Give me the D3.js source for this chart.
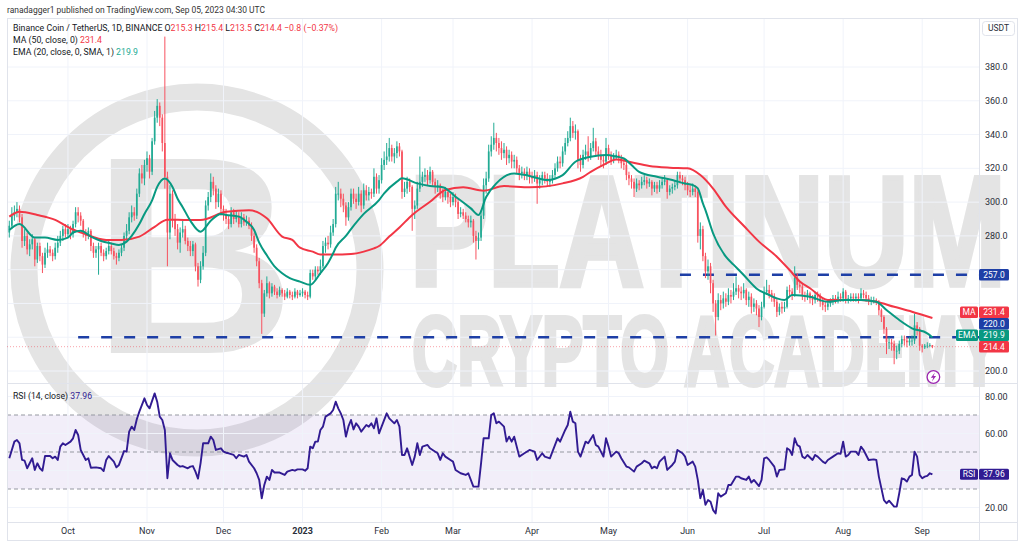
<!DOCTYPE html>
<html>
<head>
<meta charset="utf-8">
<script src="https://cdn.jsdelivr.net/npm/d3@7"></script>
<style>
  body { margin: 0; background: #fff; }
  svg text { font-family: Roboto, "Liberation Sans", "DejaVu Sans", sans-serif; }
</style>
</head>
<body>
<svg id="chart" width="1024" height="547"></svg>
<script>
// BNB / USDT daily candles, 8 Sep 2022 .. 5 Sep 2023 (open = previous close)
var firstDay = new Date(Date.UTC(2022, 8, 8));
var firstOpen = 282;

var closes = [
  // Sep 2022
  286,292,294,296,291,277,280,272,275,278,266,274,268,263,270,272,270,268,273,276,280,284,281,
  // Oct
  284,281,287,294,292,289,282,280,283,274,270,272,274,270,268,271,274,271,268,267,270,273,280,283,291,294,292,305,317,314,322,
  // Nov
  326,318,336,350,357,350,335,315,282,305,290,284,276,282,284,277,274,271,275,262,254,262,270,298,303,312,308,300,305,296,
  // Dec
  293,290,287,294,290,292,287,291,288,289,286,280,273,265,252,234,246,252,246,250,247,245,248,246,244,247,245,244,247,245,246,
  // Jan 2023
  247,245,244,258,256,260,259,262,274,276,275,282,287,305,305,302,298,291,297,305,302,300,305,298,307,304,306,305,315,308,313,
  // Feb
  322,325,327,332,327,329,333,330,306,308,312,309,296,298,308,312,315,316,313,318,312,309,310,306,303,306,303,300,
  // Mar
  303,300,293,294,292,290,288,289,280,277,279,292,310,314,330,334,338,335,332,329,331,326,328,324,325,320,317,318,316,318,315,
  // Apr
  314,316,311,313,316,314,312,313,316,320,324,323,330,335,338,345,341,342,325,322,328,330,327,332,336,330,328,325,324,332,
  // May
  328,325,327,328,326,323,322,316,314,312,308,311,310,312,313,311,312,308,310,308,310,312,313,306,308,309,310,316,314,313,310,
  // Jun
  307,306,308,306,280,284,268,259,262,252,240,232,242,240,243,241,245,244,247,249,247,246,248,242,244,238,240,237,232,238,
  // Jul
  247,248,246,244,241,235,238,237,238,248,247,245,255,251,250,245,244,246,243,242,245,244,241,239,238,240,241,243,242,244,243,
  // Aug
  247,242,243,244,243,244,243,246,245,243,241,242,242,241,236,232,225,217,217,216,212,212,216,219,218,217,218,218,227,225,215,
  // Sep
  214,215,215,215.3,214.4
];

var highs = [
  289,297,298,300,298,293,284,282,278,281,279,276,276,270,273,276,274,272,276,280,283,286,287,
  287,286,289,297,297,294,290,284,285,284,276,274,276,276,272,273,277,276,273,270,272,275,282,287,294,298,297,308,320,322,325,
  330,328,338,354,361,359,352,398,318,310,307,293,287,285,289,286,279,277,277,276,264,265,274,301,306,317,315,310,308,307,
  298,296,292,297,296,295,294,294,293,292,291,288,282,275,267,254,248,256,253,252,251,249,250,249,248,249,248,247,249,248,248,
  249,248,247,260,260,262,262,266,277,279,280,286,290,309,312,308,305,300,300,308,308,305,309,307,311,310,309,308,320,317,316,
  326,330,335,338,334,332,336,335,331,312,315,314,310,301,312,327,318,320,319,321,319,314,313,311,308,309,308,305,
  306,305,302,297,296,294,292,292,290,283,282,295,314,318,334,339,347,341,338,336,335,333,331,330,328,327,322,321,320,321,320,
  318,319,318,316,318,318,317,316,319,323,327,327,333,338,342,350,348,346,343,328,331,334,339,335,344,338,333,331,328,338,
  334,330,329,331,330,328,326,324,318,316,314,314,313,315,316,315,314,313,312,312,313,314,316,314,310,311,313,318,318,316,315,
  312,310,311,310,307,288,286,270,266,264,254,242,246,245,247,246,249,248,252,256,251,250,252,249,247,246,243,242,239,241,
  250,254,251,248,246,243,240,241,241,250,251,249,262,258,253,252,247,248,247,245,247,247,246,243,241,242,243,245,245,247,246,
  249,248,245,246,246,246,246,249,248,247,245,244,244,243,242,237,233,226,220,219,218,215,218,221,221,220,220,221,234,229,226,
  216,216,217,216.5,215.4
];

var lows = [
  279,284,289,291,288,273,274,269,268,272,262,264,265,258,261,267,268,265,266,270,274,277,279,
  279,278,279,285,288,286,279,277,278,271,267,267,257,268,265,266,269,269,266,263,265,268,271,278,281,288,289,290,303,311,310,
  318,314,316,334,347,345,330,308,262,278,285,280,272,270,279,275,271,268,268,259,250,252,260,268,295,300,304,296,297,292,
  289,287,284,285,287,288,285,285,286,286,284,277,270,262,249,222,232,244,243,244,245,243,244,244,242,243,243,242,243,243,244,
  244,243,242,243,254,254,257,257,261,270,272,273,280,285,301,297,294,286,289,295,299,296,298,294,296,301,301,302,303,305,305,
  311,319,322,324,324,323,326,327,302,303,305,306,283,290,296,306,309,312,310,311,309,305,306,302,300,301,299,297,
  298,297,290,291,290,288,285,285,276,266,272,277,290,305,312,327,331,330,328,325,326,322,323,320,320,317,313,314,313,313,311,
  311,312,299,308,310,311,309,309,311,314,318,320,321,328,333,336,338,337,320,318,320,325,324,325,330,327,325,321,320,322,
  325,322,323,325,323,320,319,313,310,308,303,306,307,308,310,308,309,304,306,305,306,308,310,302,304,305,307,308,311,310,307,
  304,303,304,303,276,272,265,255,254,246,235,221,230,236,237,238,239,240,242,245,243,242,243,239,238,234,235,233,226,230,
  237,245,243,241,238,232,233,234,235,237,244,242,244,248,246,242,241,242,240,239,240,241,238,236,235,236,238,239,240,240,241,
  241,240,240,241,241,241,240,242,243,241,239,239,240,239,233,229,222,210,213,212,204,207,210,214,215,214,215,215,216,221,212,
  211,213,213.5,214,213.5
];

// EMA(20): [day index, value]
var emaPoints = [
  [0,283.5],[4,287],[10,279],[14,279],[19,277.6],[23,279],[25,282],[28,283],[32,279.6],[36,277],[40,275.5],
  [43,274.6],[46,276.6],[48,280],[51,287],[53,293],[56,301],[58,309],[61,314],[64,309],[66,302],[68,297],
  [71,289],[75,282.5],[79,289],[83,293],[85,292.4],[90,291.4],[93,288.4],[96,283.5],[98,276],[101,268.5],
  [104,262],[107,257.9],[110,255],[114,252.9],[118,251],[122,257.9],[125,264],[127,269.7],[128,273],[132,280],
  [134,284],[139,293],[145,301.2],[147,305.2],[152,312.1],[154,314.1],[160,311.1],[165,309.5],[170,308.8],
  [175,303.2],[181,296.3],[184,292.4],[187,303],[191,311.1],[198,317],[204,315.5],[211,313.1],[217,316],
  [222,323.9],[228,326.9],[234,327.9],[238,327],[241,325.9],[244,322],[247,317.9],[254,315],[260,313.1],
  [265,311],[268,310.1],[270,308.2],[272,299.2],[273,295.3],[276,281.5],[281,267.7],[284,263],[288,256.8],
  [293,248.9],[298,245],[301,243],[304,242],[307,245],[314,244],[321,241],[327,242],[334,242],[340,241],
  [344,236.1],[349,230.2],[354,225.3],[360,222.3],[362,219.9]
];

// MA(50): [day index, value]
var maPoints = [
  [0,291.4],[4,294.3],[11,292.4],[18,289.5],[24,284.5],[29,281.5],[38,277.6],[44,277.6],[51,279.6],[57,285.4],
  [62,289.6],[70,289.4],[75,289.4],[85,294.3],[94,295.2],[101,290.4],[107,279.6],[111,277.6],[114,273],
  [119,270.7],[122,269],[127,269],[134,269.3],[139,270.7],[143,272.6],[145,274],[149,279.6],[153,285],
  [158,292.4],[165,300.2],[171,307.2],[178,308.8],[186,306.8],[194,309.5],[204,308.8],[217,311.1],[225,315],
  [228,317.9],[233,322],[238,325.3],[243,323.9],[251,321.4],[259,320.4],[266,320],[271,316],[276,308],
  [281,297.3],[288,286],[294,276.6],[301,267.7],[306,259.8],[310,253],[314,249],[321,242],[327,242],
  [334,242],[340,241],[347,238],[354,235.1],[362,231.4]
];

// RSI(14): [day index, value]
var rsiPoints = [
  [0,46.6],[2,55.6],[3,56.5],[4,54.7],[5,45.7],[6,45.3],[7,41.2],[8,43.9],[9,46.6],[10,40.3],[11,43.9],[12,41.2],
  [13,39.9],[14,47.8],[16,47.8],[17,46.6],[18,47.5],[19,45.7],[20,52.9],[21,54.7],[22,53.8],[24,55.6],[25,57.4],
  [26,61.9],[27,59.2],[28,51.1],[30,45.7],[31,46.6],[32,41.5],[34,41.7],[36,41.2],[37,39.7],[38,45.7],[39,47.8],
  [41,44.8],[42,41.7],[43,43],[45,50.5],[46,50.2],[47,61],[48,63.7],[49,61.9],[50,67.7],[51,71.8],[53,79],
  [54,75.4],[55,73.6],[57,81.7],[58,77.2],[59,69.1],[60,67.3],[61,61.9],[62,35.8],[63,49.3],[64,45.7],[66,43],
  [67,42.1],[68,42.4],[70,41.2],[71,42.1],[72,42.4],[73,39.4],[74,35.6],[75,43.9],[76,54.7],[78,54.7],[79,58.3],
  [80,56.5],[81,51.1],[83,52],[84,50.2],[85,49.6],[86,49.3],[88,48.4],[89,46.6],[90,48.4],[92,47.5],[93,48.4],
  [94,44.8],[96,41.2],[97,38.5],[98,34.9],[99,25],[100,32.2],[101,36.7],[102,34.9],[103,40.3],[104,38.9],
  [106,38.9],[108,37.6],[109,39.4],[111,40.3],[112,39.9],[113,40.6],[115,40.6],[116,39.9],[117,41.2],[118,52.9],
  [119,52],[120,55.6],[121,55.6],[122,61.9],[123,63.7],[124,69.1],[126,70.9],[127,72.7],[128,77.2],[129,73.6],
  [130,70.9],[131,67.3],[132,58.3],[133,63.8],[134,67.3],[135,62.2],[136,65.5],[137,63.7],[138,61],[140,64.6],
  [141,63.7],[142,65.5],[143,62.8],[144,68.2],[145,60.1],[146,63.7],[148,70.9],[149,68.2],[151,65.5],[152,67.3],
  [153,63.7],[154,48.4],[155,48.4],[156,52],[158,43],[159,47.5],[160,54.7],[161,48.4],[162,52.9],[164,53.8],
  [165,52],[166,51.1],[168,49.3],[169,45.7],[170,49.3],[171,47.5],[173,45.7],[174,44.8],[175,40.3],[177,38.5],
  [179,37.6],[180,38.5],[182,31.3],[184,31.3],[185,43.9],[186,57.4],[188,57.4],[189,70],[190,70.9],[191,65.5],
  [192,66.4],[194,63.7],[195,55.6],[196,58.3],[197,55.6],[198,58.3],[200,47.5],[202,49.3],[204,51.1],[206,50.2],
  [207,45.7],[209,49.3],[210,47.5],[212,46.6],[213,50.2],[215,57.4],[216,55.6],[218,61.9],[219,64.6],[220,71.8],
  [221,66.4],[222,65.5],[223,50.2],[224,47.5],[226,55.6],[227,54.7],[229,59.2],[230,53.8],[231,52.9],[233,47.5],
  [234,57.4],[235,52.9],[236,47.5],[238,50.2],[239,49.3],[240,46.6],[242,42.1],[243,41.7],[245,39.4],[246,42.1],
  [248,43.9],[249,45.3],[251,43.9],[252,41.2],[253,42.1],[254,41.2],[255,44.8],[257,47.5],[258,40.3],[260,43],
  [261,44.8],[262,51.1],[264,49.3],[265,47.5],[266,43],[268,44.8],[269,42.1],[270,34.9],[271,25],[272,29.5],
  [273,21.4],[274,24],[275,23.1],[276,18.6],[277,16.8],[278,27.7],[279,25.9],[281,27.7],[282,32.2],[283,32.2],
  [285,36.7],[286,36.7],[287,35.8],[289,34.9],[290,36.7],[291,33.5],[292,34.9],[294,31.6],[295,34.9],[296,46.6],
  [297,47.1],[298,45.7],[300,42.1],[301,36.7],[302,40.3],[304,40.6],[305,52],[306,51.1],[307,48.4],[308,57.4],
  [309,53.8],[310,52.9],[311,47.5],[312,46.6],[313,48.4],[315,45.7],[316,48.4],[317,47.5],[319,44.8],[320,43.9],
  [321,45.7],[323,47.5],[325,49.3],[326,49],[327,55.6],[328,47.5],[329,48.4],[330,50.2],[332,50.2],[333,48.4],
  [334,52.9],[335,51.1],[336,48.4],[337,45.7],[339,46],[340,45.7],[341,36.7],[343,24],[344,22.3],[345,23.7],
  [347,20.5],[348,20.5],[349,27.7],[350,35.8],[351,35.3],[352,34],[353,36.7],[354,37.6],[355,50.2],[356,47.5],
  [357,37.6],[358,35.8],[359,36.7],[360,37.1],[361,38.5],[362,37.96]
];

var levelPrices = [257, 220];
var levelStarts = ["2023-05-29", "2022-10-05"];
var priceTicks = [200, 220, 240, 260, 280, 300, 320, 340, 360, 380];
var rsiTicks = [20, 40, 60, 80];
var rsiBands = [70, 50, 30];
var monthLabels = ["Oct", "Nov", "Dec", "2023", "Feb", "Mar", "Apr", "May", "Jun", "Jul", "Aug", "Sep"];

var lastOpen = 215.3, lastHigh = 215.4, lastLow = 213.5, lastClose = 214.4;
var lastChange = "\u22120.8 (\u22120.37%)";
var maLast = 231.4, emaLast = 219.9, rsiLast = 37.96;

var colors = {
  up: "#22ab94", down: "#f23645", downBody: "#f7525f",
  ma: "#f23645", ema: "#089981", level: "#1e3fa6",
  rsi: "#311b92", grid: "#f0f3fa", border: "#e0e3eb",
  text: "#2a2e39", mark: "#e4e4e4"
};

var chart = {};
chart.svg = d3.select("#chart");
chart.left = 7;
chart.axisX = 979;
chart.right = 1017;
chart.top = 18;
chart.priceBottom = 383;
chart.rsiBottom = 522;
chart.bottom = 540;
chart.tagH = 11.5;

var dayOf = function (i) { return d3.utcDay.offset(firstDay, i); };

var x = d3.scaleUtc()
  .domain([firstDay, dayOf(closes.length - 1)])
  .range([9.3, 932.4]);
var y = d3.scaleLinear().domain([200, 380]).range([371, 67]);
var yr = d3.scaleLinear().domain([20, 80]).range([507.5, 396.5]);

var bars = closes.map(function (c, i) {
  var o = i === 0 ? firstOpen : closes[i - 1];
  return {
    date: dayOf(i), open: o, close: c,
    high: Math.max(highs[i], o, c), low: Math.min(lows[i], o, c)
  };
});

chart.svg.append("rect").attr("width", 1024).attr("height", 547).attr("fill", "#fff");

var defs = chart.svg.append("defs");
defs.append("clipPath").attr("id", "priceClip").append("rect")
  .attr("x", chart.left).attr("y", chart.top)
  .attr("width", chart.axisX - chart.left).attr("height", chart.priceBottom - chart.top);
defs.append("clipPath").attr("id", "rsiClip").append("rect")
  .attr("x", chart.left).attr("y", chart.priceBottom)
  .attr("width", chart.axisX - chart.left).attr("height", chart.rsiBottom - chart.priceBottom);

// Big grey "Platinum Crypto Academy" mark behind the data.
// Words are set at their natural width and stretched upward, like the condensed logo type.
chart.drawWatermark = function () {
  var g = chart.svg.append("g");
  var font = "'Liberation Sans', Arial, sans-serif";
  g.append("circle")
    .attr("cx", 197).attr("cy", 270).attr("r", 173)
    .attr("fill", "none").attr("stroke", colors.mark).attr("stroke-width", 27);
  g.append("text")
    .attr("x", 92).attr("y", 353)
    .attr("font-size", 282).attr("font-weight", 700)
    .style("font-family", font)
    .attr("fill", colors.mark).text("B");
  g.append("text")
    .attr("transform", "translate(410,285) scale(1,1.36)")
    .attr("font-size", 115).attr("font-weight", 700)
    .attr("textLength", 596).attr("lengthAdjust", "spacingAndGlyphs")
    .style("font-family", font)
    .attr("fill", colors.mark).attr("stroke", colors.mark).attr("stroke-width", 4)
    .text("PLATINUM");
  g.append("text")
    .attr("transform", "translate(412,385) scale(1,1.6)")
    .attr("font-size", 62).attr("font-weight", 700)
    .attr("textLength", 588).attr("lengthAdjust", "spacingAndGlyphs")
    .style("font-family", font)
    .attr("fill", colors.mark).attr("stroke", colors.mark).attr("stroke-width", 2.5)
    .text("CRYPTO ACADEMY");
};

chart.drawGrid = function () {
  var months = d3.utcMonth.range(new Date(Date.UTC(2022, 9, 1)), new Date(Date.UTC(2023, 8, 2)));
  chart.months = months;

  chart.svg.append("rect")
    .attr("x", chart.left).attr("width", chart.axisX - chart.left)
    .attr("y", yr(70)).attr("height", yr(30) - yr(70))
    .attr("fill", "rgba(126,87,194,0.1)");

  var g = chart.svg.append("g");
  g.selectAll("line.vgrid").data(months).join("line")
    .attr("x1", function (d) { return x(d); }).attr("x2", function (d) { return x(d); })
    .attr("y1", chart.top).attr("y2", chart.rsiBottom)
    .attr("stroke", colors.grid);
  g.selectAll("line.pgrid").data(priceTicks).join("line")
    .attr("x1", chart.left).attr("x2", chart.axisX)
    .attr("y1", function (d) { return y(d); }).attr("y2", function (d) { return y(d); })
    .attr("stroke", colors.grid);
  g.selectAll("line.rgrid").data(rsiTicks).join("line")
    .attr("x1", chart.left).attr("x2", chart.axisX)
    .attr("y1", function (d) { return yr(d); }).attr("y2", function (d) { return yr(d); })
    .attr("stroke", colors.grid);
  g.selectAll("line.band").data(rsiBands).join("line")
    .attr("x1", chart.left).attr("x2", chart.axisX)
    .attr("y1", function (d) { return yr(d); }).attr("y2", function (d) { return yr(d); })
    .attr("stroke", "#9598a1").attr("stroke-dasharray", "4,3");
};

chart.drawFrame = function () {
  var g = chart.svg.append("g").attr("fill", "none").attr("stroke", colors.border);
  g.append("rect")
    .attr("x", chart.left + 0.5).attr("y", chart.top + 0.5)
    .attr("width", chart.right - chart.left).attr("height", chart.bottom - chart.top);
  g.append("line").attr("x1", chart.axisX + 0.5).attr("x2", chart.axisX + 0.5)
    .attr("y1", chart.top).attr("y2", chart.bottom);
  g.append("line").attr("x1", chart.left).attr("x2", chart.right)
    .attr("y1", chart.priceBottom + 0.5).attr("y2", chart.priceBottom + 0.5);
  g.append("line").attr("x1", chart.left).attr("x2", chart.right)
    .attr("y1", chart.rsiBottom + 0.5).attr("y2", chart.rsiBottom + 0.5);
};

chart.drawPricePane = function () {
  var g = chart.svg.append("g").attr("clip-path", "url(#priceClip)");

  // horizontal support / resistance levels
  g.selectAll("line.level").data(levelPrices).join("line")
    .attr("x1", function (d, i) { return x(new Date(levelStarts[i])); })
    .attr("x2", chart.axisX)
    .attr("y1", function (d) { return y(d); }).attr("y2", function (d) { return y(d); })
    .attr("stroke", colors.level).attr("stroke-width", 2.6)
    .attr("stroke-dasharray", "11,12");

  // last price line
  g.append("line")
    .attr("x1", chart.left).attr("x2", chart.axisX)
    .attr("y1", y(lastClose)).attr("y2", y(lastClose))
    .attr("stroke", "rgba(242,54,69,0.45)").attr("stroke-dasharray", "1,2");

  var bodyW = 1.7;
  var isUp = function (d) { return d.close >= d.open; };
  var candles = g.selectAll("g.candle").data(bars).join("g").attr("class", "candle");
  candles.append("line")
    .attr("x1", function (d) { return x(d.date); }).attr("x2", function (d) { return x(d.date); })
    .attr("y1", function (d) { return y(d.high); }).attr("y2", function (d) { return y(d.low); })
    .attr("stroke", function (d) { return isUp(d) ? colors.up : colors.downBody; })
    .attr("stroke-width", 1);
  candles.append("rect")
    .attr("x", function (d) { return x(d.date) - bodyW / 2; })
    .attr("y", function (d) { return y(Math.max(d.open, d.close)); })
    .attr("width", bodyW)
    .attr("height", function (d) { return Math.max(0.8, Math.abs(y(d.open) - y(d.close))); })
    .attr("fill", function (d) { return isUp(d) ? colors.up : colors.downBody; });

  var line = d3.line()
    .x(function (p) { return x(dayOf(p[0])); })
    .y(function (p) { return y(p[1]); })
    .curve(d3.curveMonotoneX);
  g.append("path").datum(maPoints).attr("d", line)
    .attr("fill", "none").attr("stroke", colors.ma).attr("stroke-width", 2);
  g.append("path").datum(emaPoints).attr("d", line)
    .attr("fill", "none").attr("stroke", colors.ema).attr("stroke-width", 2);
};

chart.drawRsiPane = function () {
  var g = chart.svg.append("g").attr("clip-path", "url(#rsiClip)");
  var line = d3.line()
    .x(function (p) { return x(dayOf(p[0])); })
    .y(function (p) { return yr(p[1]); });
  g.append("path").datum(rsiPoints).attr("d", line)
    .attr("fill", "none").attr("stroke", colors.rsi)
    .attr("stroke-width", 1.9).attr("stroke-linejoin", "round");
};

// value tags on the right scale, pushed upward so they do not overlap
chart.layoutTags = function () {
  var tagH = chart.tagH;
  var tags = [
    { value: maLast, name: "MA", color: colors.ma, nameW: 18 },
    { value: levelPrices[1], color: colors.level },
    { value: emaLast, name: "EMA", color: colors.ema, nameW: 22 },
    { value: lastClose, color: colors.down }
  ];
  tags.forEach(function (t) { t.y = y(t.value); });
  tags.sort(function (a, b) { return b.y - a.y; });
  for (var i = 1; i < tags.length; i++) {
    if (tags[i].y > tags[i - 1].y - tagH) tags[i].y = tags[i - 1].y - tagH;
  }
  tags.push({ value: levelPrices[0], color: colors.level, y: y(levelPrices[0]) });
  chart.tags = tags;
};

chart.drawAxes = function () {
  var g = chart.svg.append("g").attr("font-size", 9).attr("fill", colors.text);
  // scale labels that sit under a value tag are hidden, as on the original
  var free = function (py) {
    return chart.tags.every(function (t) { return Math.abs(t.y - py) > chart.tagH / 2 + 4; });
  };
  g.selectAll("text.pt").data(priceTicks.filter(function (d) { return free(y(d)); })).join("text")
    .attr("x", 985).attr("y", function (d) { return y(d); }).attr("dy", "0.35em")
    .text(d3.format(".1f"));
  g.selectAll("text.rt").data(rsiTicks.filter(function (d) { return Math.abs(yr(d) - yr(rsiLast)) > 9; }))
    .join("text")
    .attr("x", 985).attr("y", function (d) { return yr(d); }).attr("dy", "0.35em")
    .text(d3.format(".2f"));
  g.selectAll("text.mt").data(chart.months).join("text")
    .attr("x", function (d) { return x(d); }).attr("y", 534)
    .attr("text-anchor", "middle")
    .attr("font-weight", function (d, i) { return monthLabels[i] === "2023" ? 700 : 400; })
    .text(function (d, i) { return monthLabels[i]; });

  // currency box
  chart.svg.append("rect")
    .attr("x", 982.5).attr("y", 21.5).attr("width", 32).attr("height", 14).attr("rx", 3)
    .attr("fill", "#fff").attr("stroke", colors.border);
  chart.svg.append("text")
    .attr("x", 998.5).attr("y", 28.5).attr("dy", "0.35em").attr("text-anchor", "middle")
    .attr("font-size", 8.5).attr("fill", colors.text).text("USDT");
};

chart.drawTags = function () {
  var tagH = chart.tagH;
  var g = chart.svg.append("g").attr("font-size", 8.5);
  chart.tags.forEach(function (t) {
    g.append("rect")
      .attr("x", chart.axisX).attr("y", t.y - tagH / 2)
      .attr("width", 30).attr("height", tagH).attr("rx", 1.5)
      .attr("fill", t.color);
    g.append("text")
      .attr("x", chart.axisX + 15).attr("y", t.y).attr("dy", "0.35em")
      .attr("text-anchor", "middle").attr("fill", "#fff")
      .text(d3.format(".1f")(t.value));
    if (t.name) {
      g.append("rect")
        .attr("x", chart.axisX - 1 - t.nameW).attr("y", t.y - tagH / 2)
        .attr("width", t.nameW).attr("height", tagH).attr("rx", 1.5)
        .attr("fill", t.color);
      g.append("text")
        .attr("x", chart.axisX - 1 - t.nameW / 2).attr("y", t.y).attr("dy", "0.35em")
        .attr("text-anchor", "middle").attr("fill", "#fff").text(t.name);
    }
  });

  var ry = yr(rsiLast);
  g.append("rect").attr("x", 960).attr("y", ry - 5.5).attr("width", 18).attr("height", 11)
    .attr("rx", 1.5).attr("fill", colors.rsi);
  g.append("text").attr("x", 969).attr("y", ry).attr("dy", "0.35em")
    .attr("text-anchor", "middle").attr("fill", "#fff").text("RSI");
  g.append("rect").attr("x", chart.axisX).attr("y", ry - 5.5).attr("width", 30).attr("height", 11)
    .attr("rx", 1.5).attr("fill", colors.rsi);
  g.append("text").attr("x", chart.axisX + 15).attr("y", ry).attr("dy", "0.35em")
    .attr("text-anchor", "middle").attr("fill", "#fff").text(d3.format(".2f")(rsiLast));
};

chart.drawLegend = function () {
  var g = chart.svg.append("g").attr("font-size", 9.5).attr("fill", "#131722");

  g.append("text").attr("x", 7).attr("y", 13)
    .attr("fill", "#333").attr("textLength", 258).attr("lengthAdjust", "spacingAndGlyphs")
    .text("ranadagger1 published on TradingView.com, Sep 05, 2023 04:30 UTC");

  var t1 = g.append("text").attr("x", 13).attr("y", 31)
    .attr("textLength", 325).attr("lengthAdjust", "spacingAndGlyphs");
  t1.append("tspan").text("Binance Coin / TetherUS, 1D, BINANCE  O");
  t1.append("tspan").attr("fill", colors.down).text(lastOpen.toFixed(1));
  t1.append("tspan").text(" H");
  t1.append("tspan").attr("fill", colors.down).text(lastHigh.toFixed(1));
  t1.append("tspan").text(" L");
  t1.append("tspan").attr("fill", colors.down).text(lastLow.toFixed(1));
  t1.append("tspan").text(" C");
  t1.append("tspan").attr("fill", colors.down).text(lastClose.toFixed(1) + " " + lastChange);

  var t2 = g.append("text").attr("x", 13).attr("y", 43)
    .attr("textLength", 89).attr("lengthAdjust", "spacingAndGlyphs");
  t2.append("tspan").text("MA (50, close, 0) ");
  t2.append("tspan").attr("fill", colors.ma).text(maLast.toFixed(1));

  var t3 = g.append("text").attr("x", 13).attr("y", 55)
    .attr("textLength", 125).attr("lengthAdjust", "spacingAndGlyphs");
  t3.append("tspan").text("EMA (20, close, 0, SMA, 1) ");
  t3.append("tspan").attr("fill", colors.up).text(emaLast.toFixed(1));

  var t4 = g.append("text").attr("x", 13).attr("y", 399)
    .attr("textLength", 79).attr("lengthAdjust", "spacingAndGlyphs");
  t4.append("tspan").text("RSI (14, close) ");
  t4.append("tspan").attr("fill", colors.rsi).text(rsiLast.toFixed(2));
};

// small purple "events" icon under the last bars
chart.drawIcon = function () {
  var cx = x(dayOf(closes.length - 1)) + 1, cy = 377;
  chart.svg.append("circle").attr("cx", cx).attr("cy", cy).attr("r", 6.3)
    .attr("fill", "#fff").attr("stroke", "#9c27b0").attr("stroke-width", 1.3);
  chart.svg.append("path")
    .attr("d", "M" + (cx + 1.6) + "," + (cy - 4.4) + " L" + (cx - 2.6) + "," + (cy + 0.8) +
      " L" + (cx - 0.1) + "," + (cy + 0.8) + " L" + (cx - 1.5) + "," + (cy + 4.4) +
      " L" + (cx + 2.7) + "," + (cy - 1) + " L" + (cx + 0.1) + "," + (cy - 1) + " Z")
    .attr("fill", "#9c27b0");
};

chart.drawWatermark();
chart.drawGrid();
chart.drawFrame();
chart.drawPricePane();
chart.drawRsiPane();
chart.layoutTags();
chart.drawAxes();
chart.drawTags();
chart.drawLegend();
chart.drawIcon();
</script>
</body>
</html>
